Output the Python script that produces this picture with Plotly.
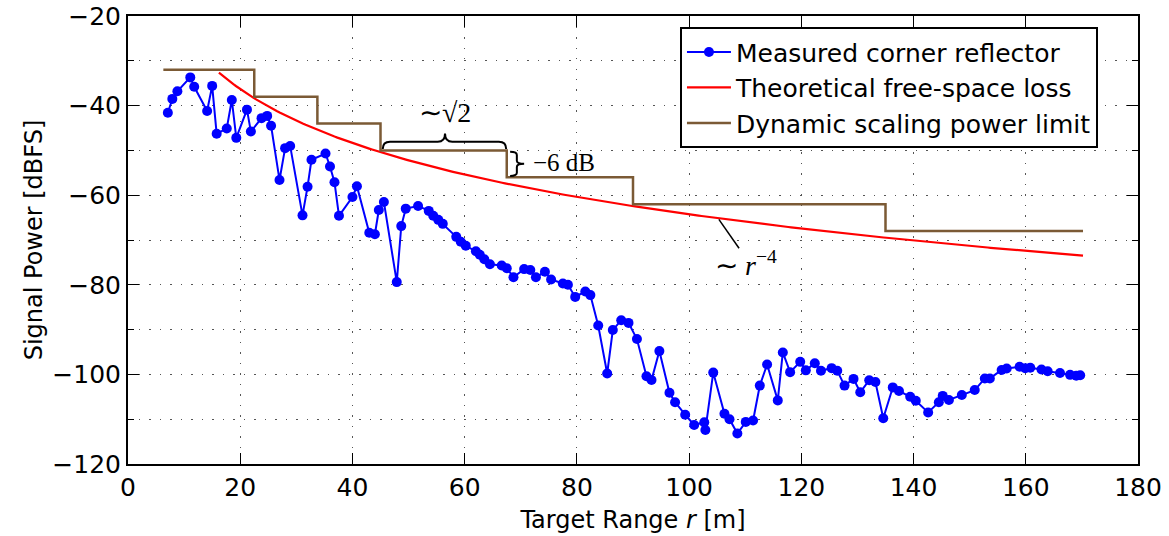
import numpy as np
import plotly.graph_objects as go

# ---- data ----
meas_range = [7.1, 7.9, 8.8, 11.1, 11.8, 14.1, 15.0, 15.8, 17.6, 18.5, 19.3, 21.2, 21.9, 23.8,
              24.8, 25.5, 27.0, 28.0, 28.9, 31.1, 32.0, 32.7, 35.2, 36.0, 36.8, 37.6, 40.0, 40.8,
              43.0, 44.0, 44.7, 45.6, 47.9, 48.7, 49.5, 51.7, 53.6, 54.4, 55.3, 56.1, 58.5, 59.3,
              60.2, 62.0, 62.7, 63.5, 64.5, 66.6, 67.5, 68.7, 70.6, 71.7, 72.7, 74.3, 75.4, 77.5,
              78.4, 79.7, 81.5, 82.4, 83.8, 85.4, 86.4, 87.9, 89.2, 90.7, 92.4, 93.3, 94.7, 96.5,
              97.5, 99.3, 100.9, 102.7, 102.9, 104.3, 106.3, 107.2, 108.6, 110.1, 111.4, 112.6,
              113.9, 115.8, 116.7, 118.0, 119.8, 120.8, 122.4, 123.5, 125.4, 126.4, 127.7, 129.3,
              130.5, 132.1, 133.2, 134.6, 136.3, 137.4, 139.4, 140.4, 142.6, 144.5, 145.2, 146.3,
              148.6, 150.9, 152.7, 153.6, 155.7, 156.6, 158.9, 159.9, 160.8, 162.8, 163.9, 166.1,
              167.9, 169.0, 169.7]
meas_power = [-41.6, -38.5, -36.8, -33.7, -35.8, -41.2, -35.6, -46.3, -45.1, -38.75, -47.2, -40.9,
              -45.8, -42.8, -42.3, -44.5, -56.6, -49.5, -49.0, -64.5, -58.1, -52.1, -50.7, -53.6,
              -57.1, -64.6, -60.4, -58.0, -68.4, -68.7, -63.3, -61.5, -79.4, -66.9, -63.0, -62.4,
              -63.5, -64.6, -65.5, -66.4, -69.3, -70.4, -71.3, -72.5, -73.3, -74.3, -75.4, -75.7,
              -76.3, -78.3, -76.5, -76.7, -78.3, -77.1, -78.8, -79.7, -80.0, -82.7, -81.5, -82.3,
              -89.1, -99.8, -90.1, -87.9, -88.5, -92.1, -100.4, -101.25, -94.8, -104.1, -106.2,
              -109.0, -111.3, -110.7, -112.4, -99.6, -108.8, -110.0, -113.2, -110.6, -110.3, -102.5,
              -97.8, -105.8, -95.1, -99.5, -97.2, -99.1, -97.5, -99.2, -98.6, -99.2, -102.5, -101.0,
              -104.0, -101.3, -101.7, -109.8, -102.9, -103.7, -105.0, -105.9, -108.5, -106.2,
              -104.8, -105.7, -104.6, -103.5, -100.9, -100.9, -99.0, -98.7, -98.3, -98.6, -98.5,
              -98.9, -99.3, -99.7, -100.1, -100.3, -100.2]

# dynamic scaling power limit (step edges and levels)
limit_range = [6.3, 22.5, 33.75, 45.0, 67.5, 90.0, 135.0, 170.2]
limit_power = [-32, -38, -44, -50, -56, -62, -68, -68]

# theoretical free-space loss model ~ r^-4
theo_r_start = 16.2
theo_r_end = 170.2
theo_p_ref = -32.65
theo_exponent = 4

theo_r = np.linspace(theo_r_start, theo_r_end, 300)
theo_p = theo_p_ref - 10 * theo_exponent * np.log10(theo_r / theo_r_start)

BLUE = "#0000FF"
RED = "#FF0000"
BROWN = "#7B5A35"
SANS = "DejaVu Sans"
SERIF = "Liberation Serif"
FS = 25

fig = go.Figure()
fig.add_trace(go.Scatter(x=meas_range, y=meas_power, mode="lines+markers",
                         name="Measured corner reflector",
                         line=dict(color=BLUE, width=2),
                         marker=dict(color=BLUE, size=10)))
fig.add_trace(go.Scatter(x=theo_r, y=theo_p, mode="lines",
                         name="Theoretical free-space loss",
                         line=dict(color=RED, width=2.2)))
fig.add_trace(go.Scatter(x=limit_range, y=limit_power, mode="lines", line_shape="hv",
                         name="Dynamic scaling power limit",
                         line=dict(color=BROWN, width=2.5)))

grid = dict(gridcolor="#555555", gridwidth=1.2, griddash="1.5px,9px")

fig.update_xaxes(range=[0, 180], dtick=20, tick0=0, ticks="inside", ticklen=11, tickwidth=1.2,
                 tickcolor="black", showline=True, linecolor="black", linewidth=2,
                 mirror="allticks", showgrid=True, zeroline=False, automargin=False, **grid,
                 title=dict(text="Target Range <i>r</i> [m]",
                            font=dict(size=FS - 1, family=SANS, color="black"), standoff=10),
                 tickfont=dict(size=FS, family=SANS, color="black"))
fig.update_yaxes(range=[-120, -20], dtick=20, tick0=-120, ticks="inside", ticklen=11, tickwidth=1.2,
                 tickcolor="black", showline=True, linecolor="black", linewidth=2,
                 mirror="allticks", showgrid=True, zeroline=False, automargin=False, **grid,
                 minor=dict(dtick=10, ticks="inside", ticklen=6, tickcolor="black",
                            showgrid=True, gridcolor="#555555", gridwidth=1.2, griddash="1.5px,9px"),
                 title=dict(text="Signal Power [dBFS]",
                            font=dict(size=FS - 1, family=SANS, color="black"), standoff=3),
                 tickfont=dict(size=FS, family=SANS, color="black"))

# braces
hb = dict(x0=45.4, x1=67.4, xm=56.5, yend=-49.7, ymid=-48.05, ytip=-46.2, d=1.3)
hpath = (f"M {hb['x0']},{hb['yend']} Q {hb['x0']},{hb['ymid']} {hb['x0']+hb['d']},{hb['ymid']} "
         f"L {hb['xm']-hb['d']},{hb['ymid']} Q {hb['xm']},{hb['ymid']} {hb['xm']},{hb['ytip']} "
         f"Q {hb['xm']},{hb['ymid']} {hb['xm']+hb['d']},{hb['ymid']} "
         f"L {hb['x1']-hb['d']},{hb['ymid']} Q {hb['x1']},{hb['ymid']} {hb['x1']},{hb['yend']}")
vb = dict(xend=68.1, xmid=69.3, xtip=70.6, y0=-50.3, y1=-55.7, ym=-53.0, d=0.7)
vpath = (f"M {vb['xend']},{vb['y0']} Q {vb['xmid']},{vb['y0']} {vb['xmid']},{vb['y0']-vb['d']} "
         f"L {vb['xmid']},{vb['ym']+vb['d']} Q {vb['xmid']},{vb['ym']} {vb['xtip']},{vb['ym']} "
         f"Q {vb['xmid']},{vb['ym']} {vb['xmid']},{vb['ym']-vb['d']} "
         f"L {vb['xmid']},{vb['y1']+vb['d']} Q {vb['xmid']},{vb['y1']} {vb['xend']},{vb['y1']}")
for p in (hpath, vpath):
    fig.add_shape(type="path", path=p, xref="x", yref="y", line=dict(color="black", width=2))

fig.add_shape(type="line", x0=105.3, y0=-65.4, x1=108.9, y1=-71.85, xref="x", yref="y",
              line=dict(color="black", width=1.5))

fig.add_annotation(x=56.5, y=-41.6, xref="x", yref="y", text="∼√2", showarrow=False,
                   font=dict(size=28, family=SERIF, color="black"))
fig.add_annotation(x=71.8, y=-52.8, xref="x", yref="y", text="−6 dB", showarrow=False,
                   xanchor="left", font=dict(size=25, family=SERIF, color="black"))
fig.add_annotation(x=104.3, y=-75.3, xref="x", yref="y", text="∼ <i>r</i><sup>−4</sup>",
                   showarrow=False, xanchor="left", font=dict(size=28, family=SERIF, color="black"))

fig.update_layout(
    width=1169, height=536,
    margin=dict(l=128, r=31, t=16, b=72),
    plot_bgcolor="white", paper_bgcolor="white",
    showlegend=True,
    legend=dict(x=0.5465, y=0.975, xanchor="left", yanchor="top", itemwidth=44,
                bgcolor="white", bordercolor="black", borderwidth=2,
                font=dict(size=FS, family=SANS, color="black")),
)

fig.write_html("out.html")
